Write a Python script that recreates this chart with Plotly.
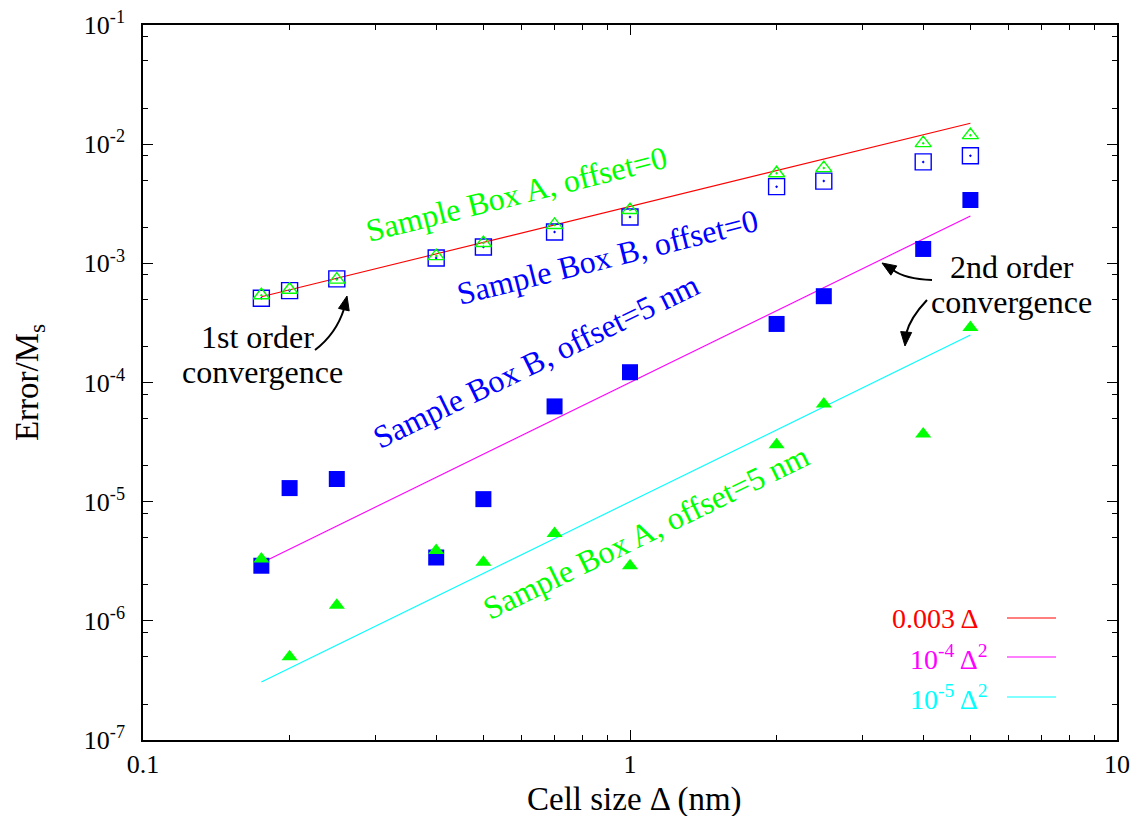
import math
import plotly.graph_objects as go

# ---------------- data ----------------
cell_size = [0.175, 0.2, 0.25, 0.4, 0.5, 0.7, 1, 2, 2.5, 4, 5]
box_a_offset0 = [5.4e-4, 6.0e-4, 7.3e-4, 1.15e-3, 1.48e-3, 2.1e-3, 2.8e-3, 5.7e-3, 6.3e-3, 1.02e-2, 1.19e-2]
box_b_offset0 = [5.1e-4, 5.9e-4, 7.4e-4, 1.11e-3, 1.37e-3, 1.83e-3, 2.45e-3, 4.4e-3, 4.9e-3, 7.1e-3, 8.0e-3]
box_b_offset5 = [2.9e-6, 1.3e-5, 1.55e-5, 3.4e-6, 1.05e-5, 6.3e-5, 1.22e-4, 3.1e-4, 5.3e-4, 1.32e-3, 3.4e-3]
box_a_offset5 = [3.3e-6, 5.0e-7, 1.35e-6, 3.9e-6, 3.1e-6, 5.4e-6, 2.9e-6, 3.0e-5, 6.6e-5, 3.7e-5, 2.9e-4]

fit_range = [0.175, 5]
fit_coef = [0.003, 1e-4, 1e-5]
fit_power = [1, 2, 2]
fit_labels = ["0.003 Δ", "10<sup>-4</sup> Δ<sup>2</sup>", "10<sup>-5</sup> Δ<sup>2</sup>"]

x_tickvals = [0.1, 1, 10]
x_ticktext = ["0.1", "1", "10"]
y_tickvals = [1e-7, 1e-6, 1e-5, 1e-4, 1e-3, 1e-2, 1e-1]
y_ticktext = ["10<sup>-7</sup>", "10<sup>-6</sup>", "10<sup>-5</sup>", "10<sup>-4</sup>",
              "10<sup>-3</sup>", "10<sup>-2</sup>", "10<sup>-1</sup>"]
x_minor = [m * d for d in [0.1, 1] for m in range(2, 10)]
y_minor = [m * 10.0 ** e for e in range(-7, -1) for m in (2, 5, 8)]

x_title = "Cell size Δ (nm)"
y_title = "Error/M<sub>s</sub>"

# ---------------- layout geometry ----------------
OFF = 8                      # page body margin
W, H = 1138 - 2 * OFF, 824 - 2 * OFF
L, R, T, B = 143, 1117, 25, 740   # plot area in screenshot pixels
FONT = "Liberation Serif"

def px(x):
    return (x - L) / (R - L)

def py(y):
    return (B - y) / (B - T)

GREEN, BLUE, RED, MAG, CYAN = "#00ff00", "#0000ff", "#ff0000", "#ff00ff", "#00ffff"
fit_colors = [RED, MAG, CYAN]

fig = go.Figure()

for c, p, col, lab in zip(fit_coef, fit_power, fit_colors, fit_labels):
    fig.add_trace(go.Scatter(
        x=fit_range, y=[c * v ** p for v in fit_range], mode="lines",
        line=dict(color=col, width=1.1), name=lab, showlegend=False))

fig.add_trace(go.Scatter(x=cell_size, y=box_b_offset0, mode="markers", showlegend=False,
                         name="Sample Box B, offset=0",
                         marker=dict(symbol="square-open-dot", size=16, color=BLUE,
                                     line=dict(width=1.4, color=BLUE))))
fig.add_trace(go.Scatter(x=cell_size, y=box_a_offset0, mode="markers", showlegend=False,
                         name="Sample Box A, offset=0",
                         marker=dict(symbol="triangle-up-open-dot", size=14, color=GREEN,
                                     line=dict(width=1.4, color=GREEN))))
fig.add_trace(go.Scatter(x=cell_size, y=box_b_offset5, mode="markers", showlegend=False,
                         name="Sample Box B, offset=5 nm",
                         marker=dict(symbol="square", size=16, color=BLUE, line=dict(width=0))))
fig.add_trace(go.Scatter(x=cell_size, y=box_a_offset5, mode="markers", showlegend=False,
                         name="Sample Box A, offset=5 nm",
                         marker=dict(symbol="triangle-up", size=14, color=GREEN, line=dict(width=0))))

annotations = []
shapes = []

def add_text(txt, cx, cy, col="black", size=32, angle=0, xanchor="center"):
    annotations.append(dict(text=txt, x=px(cx), y=py(cy), xref="paper", yref="paper",
                            showarrow=False, textangle=angle, xanchor=xanchor,
                            yanchor="middle",
                            font=dict(family=FONT, size=size, color=col)))

# x axis title (placed below tick labels)
add_text(x_title, 634, 799, size=33)

# rotated labels
add_text("Sample Box A, offset=0", 516, 194, GREEN, angle=-14)
add_text("Sample Box B, offset=0", 607, 257, BLUE, angle=-14)
add_text("Sample Box B, offset=5 nm", 536, 361, BLUE, angle=-26)
add_text("Sample Box A, offset=5 nm", 646, 532, GREEN, angle=-26)

# convergence notes
add_text("1st order", 257, 337)
add_text("convergence", 262, 372)
add_text("2nd order", 1012, 267)
add_text("convergence", 1011, 302)

# curved arrows: start, control, end of curve, arrow tip
arrows = [
    ((315, 350), (336, 334), (344, 309), (347, 296)),
    ((932, 280), (905, 279), (893, 270), (882, 263)),
    ((927, 300), (910, 318), (906, 334), (905, 346)),
]
for (x0, y0), (cx, cy), (x1, y1), (tx, ty) in arrows:
    shapes.append(dict(type="path", xref="paper", yref="paper",
                       path=f"M {px(x0)},{py(y0)} Q {px(cx)},{py(cy)} {px(x1)},{py(y1)}",
                       line=dict(color="black", width=2)))
    dx, dy = tx - x1, ty - y1
    n = math.hypot(dx, dy)
    ux, uy = dx / n, dy / n
    hl, hw = 14, 5.5
    bx, by = tx - hl * ux, ty - hl * uy
    p1 = (bx - hw * uy, by + hw * ux)
    p2 = (bx + hw * uy, by - hw * ux)
    shapes.append(dict(type="path", xref="paper", yref="paper",
                       path=(f"M {px(tx)},{py(ty)} L {px(p1[0])},{py(p1[1])} "
                             f"L {px(p2[0])},{py(p2[1])} Z"),
                       fillcolor="black", line=dict(color="black", width=1)))

# legend (manual, keys on the right like gnuplot)
leg_rows = [618, 657, 697]
leg_text_right = [980, 990, 990]
for lab, col, yy, xr in zip(fit_labels, fit_colors, leg_rows, leg_text_right):
    add_text(lab, xr, yy, col, size=28, xanchor="right")
    shapes.append(dict(type="line", xref="paper", yref="paper", x0=px(1007), x1=px(1056),
                       y0=py(yy), y1=py(yy), line=dict(color=col, width=1.1)))

axis_common = dict(
    showline=True, linecolor="black", linewidth=1.6, mirror="ticks",
    ticks="inside", ticklen=10, tickwidth=1.4, tickcolor="black",
    showgrid=False, zeroline=False, automargin=False, ticklabeloverflow="allow",
    tickfont=dict(family=FONT, size=26, color="black"),
)

fig.update_layout(
    width=W, height=H,
    margin=dict(l=L - OFF, r=W - (R - OFF), t=T - OFF, b=H - (B - OFF), pad=0),
    paper_bgcolor="white", plot_bgcolor="white",
    showlegend=False,
    xaxis=dict(type="log", range=[-1, 1], tickmode="array", tickvals=x_tickvals,
               ticktext=x_ticktext, ticklabelstandoff=0,
               minor=dict(ticks="inside", ticklen=5, tickwidth=1.2, tickcolor="black",
                          tickmode="array", tickvals=x_minor, showgrid=False),
               **axis_common),
    yaxis=dict(type="log", range=[-7, -1], tickmode="array", tickvals=y_tickvals,
               ticktext=y_ticktext, ticklabelstandoff=11,
               minor=dict(ticks="inside", ticklen=5, tickwidth=1.2, tickcolor="black",
                          tickmode="array", tickvals=y_minor, showgrid=False),
               title=dict(text=y_title, standoff=35,
                          font=dict(family=FONT, size=33, color="black")),
               **axis_common),
    annotations=annotations,
    shapes=shapes,
)

fig.write_html("out.html")
